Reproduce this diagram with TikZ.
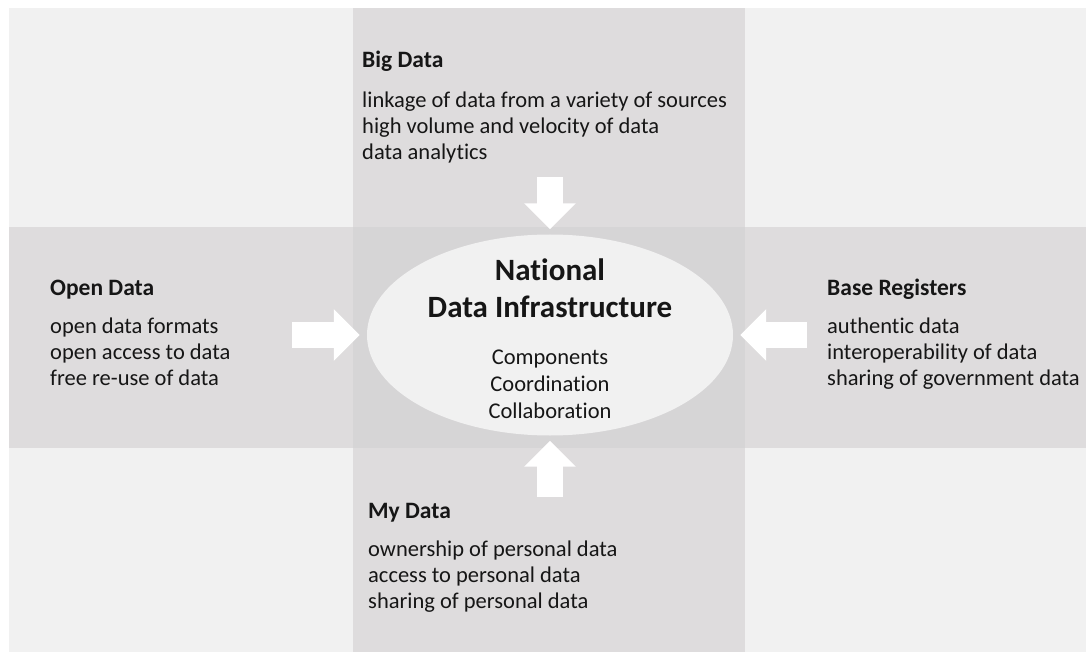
\documentclass[tikz,border=0pt]{standalone}
\usepackage{fontspec}
\setmainfont{Carlito}[Ligatures=NoCommon]
\usetikzlibrary{shapes.geometric,arrows.meta,positioning}
\definecolor{bgGray}{RGB}{241,241,241}
\definecolor{bandGray}{RGB}{222,220,221}
\definecolor{crossGray}{RGB}{214,213,214}
\definecolor{inkGray}{RGB}{22,22,22}

\begin{document}
\begin{tikzpicture}[
        x=1pt, y=-1pt, % pixel grid, y downwards
        band/.style={fill=bandGray, draw=none},
        head/.style={anchor=base west, inner sep=0pt, text=inkGray, font=\bfseries\fontsize{23.5}{26}\selectfont},
        items/.style={anchor=base west, inner sep=0pt, align=left, text=inkGray, font=\fontsize{22.5}{26}\selectfont}, % base = last line
        core/.style={ellipse, fill=bgGray, minimum width=366pt, minimum height=201pt, inner sep=0pt},
        fat/.style={draw=white, line width=26pt, -{Triangle[length=26pt,width=50pt]}},
    ]

    % background and the two strips
    \useasboundingbox (0,0) rectangle (1086,652);
    \fill[bgGray] (9,8) rectangle (1086,652);
    \fill[band] (353,8) rectangle (745,652);
    \fill[band] (9,227) rectangle (1086,448);
    \fill[crossGray] (353,227) rectangle (745,448);

    % centre
    \node[core] (ndi) at (550,335) {};
    \node[head, anchor=base, align=center, font=\bfseries\fontsize{31}{37}\selectfont] (ndi-title) at (550,317) {National\\Data Infrastructure};
    \node[items, anchor=base, align=center, font=\fontsize{22.5}{27}\selectfont] (ndi-items) at (550,418) {Components\\Coordination\\Collaboration};

    % the four sources
    \node[head] (bd-head) at (362,68) {Big Data};
    \node[items] (bd-items) at (362,160) {linkage of data from a variety of sources\\high volume and velocity of data\\data analytics};

    \node[head] (od-head) at (50,295) {Open Data};
    \node[items] (od-items) at (50,385) {open data formats\\open access to data\\free re-use of data};

    \node[head] (br-head) at (827,295) {Base Registers};
    \node[items] (br-items) at (827,385) {authentic data\\interoperability of data\\sharing of government data};

    \node[head] (md-head) at (368,518) {My Data};
    \node[items] (md-items) at (368,608) {ownership of personal data\\access to personal data\\sharing of personal data};

    % arrows into the centre
    \coordinate (bd-tail) at (550,177);
    \coordinate (od-tail) at (292,335);
    \coordinate (br-tail) at (807,335);
    \coordinate (md-tail) at (550,497);
    \draw[fat, shorten >=5pt] (bd-tail) -- (ndi.north);
    \draw[fat, shorten >=7pt] (od-tail) -- (ndi.west);
    \draw[fat, shorten >=7pt] (br-tail) -- (ndi.east);
    \draw[fat, shorten >=5pt] (md-tail) -- (ndi.south);
\end{tikzpicture}
\end{document}
